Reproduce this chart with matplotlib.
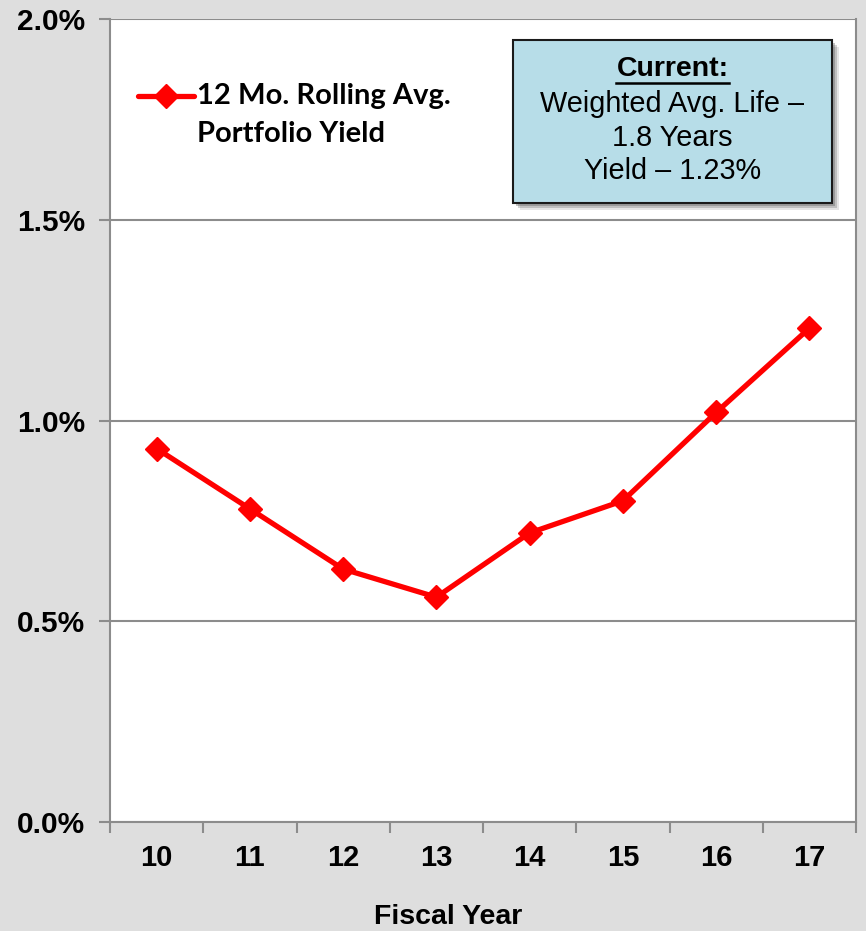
import matplotlib.pyplot as plt
import matplotlib.patches as mpatches
from matplotlib.ticker import FuncFormatter

# Data
years = ['10', '11', '12', '13', '14', '15', '16', '17']
yield_pct = [0.93, 0.78, 0.63, 0.56, 0.72, 0.80, 1.02, 1.23]
y_ticks = [0.0, 0.5, 1.0, 1.5, 2.0]

bg = '#dedede'
grid_col = '#8c8c8c'

plt.rcParams['font.family'] = ['Liberation Sans', 'DejaVu Sans']

fig = plt.figure(figsize=(8.66, 9.31), dpi=100, facecolor=bg)
ax = fig.add_axes([110/866, 1 - 822/931, (856-110)/866, (822-19)/931])
ax.set_facecolor('white')

x = list(range(len(years)))
ax.plot(x, yield_pct, color='#ff0000', lw=3.8, marker='D', ms=12,
        solid_joinstyle='round', zorder=3)

ax.set_xlim(-0.5, len(years) - 0.5)
ax.set_ylim(0, 2.0)
ax.set_yticks(y_ticks)
ax.yaxis.set_major_formatter(FuncFormatter(lambda v, p: f'{v:.1f}%'))
ax.set_xticks(x)
ax.set_xticklabels(years)
ax.set_xticks([i - 0.5 for i in range(len(years) + 1)], minor=True)
ax.tick_params(axis='x', which='major', length=0, pad=16, labelsize=21)
ax.tick_params(axis='x', which='minor', length=8, width=1.5, color=grid_col)
ax.tick_params(axis='y', length=8, width=1.5, color=grid_col, pad=10, labelsize=21.5)
for lab in ax.get_xticklabels() + ax.get_yticklabels():
    lab.set_fontweight('bold')

ax.grid(axis='y', color=grid_col, lw=1.5, zorder=0)
for s in ['left', 'bottom', 'right']:
    ax.spines[s].set_color(grid_col)
    ax.spines[s].set_linewidth(1.5)
ax.spines['top'].set_visible(False)

# axis title
fig.text(448/866, 1 - 917/931, 'Fiscal Year', fontsize=20.5, fontweight='bold',
         ha='center', va='center')

# legend drawn in the upper left
lx0, lx1, ly = 138, 194, 96
fig.add_artist(plt.Line2D([lx0/866, lx1/866], [1 - ly/931, 1 - ly/931],
                          color='#ff0000', lw=3.8, solid_capstyle='round'))
fig.add_artist(plt.Line2D([(lx0+lx1)/2/866], [1 - ly/931], color='#ff0000',
                          marker='D', ms=12, lw=0))
fig.text(197/866, 1 - ly/931, '12 Mo. Rolling Avg.', fontsize=21,
         fontweight='bold', family=['Lato', 'DejaVu Sans'], va='center')
fig.text(197/866, 1 - 134/931, 'Portfolio Yield', fontsize=21,
         fontweight='bold', family=['Lato', 'DejaVu Sans'], va='center')

# info box with shadow
bx0, by0, bx1, by1 = 513, 40, 832, 203
for off, a in [(7, 0.15), (5, 0.25), (3, 0.35)]:
    fig.add_artist(mpatches.Rectangle(((bx0+off)/866, 1 - (by1+off)/931),
                                      (bx1-bx0)/866, (by1-by0)/931,
                                      transform=fig.transFigure, facecolor='#555555',
                                      edgecolor='none', alpha=a, zorder=4))
box = mpatches.Rectangle((bx0/866, 1 - by1/931), (bx1-bx0)/866, (by1-by0)/931,
                         transform=fig.transFigure, facecolor='#b7dde8',
                         edgecolor='#1a1a1a', lw=1.5, zorder=5)
fig.add_artist(box)
cx = (bx0 + bx1) / 2 / 866
title = fig.text(cx, 1 - 69/931, 'Current:', fontsize=20.5, fontweight='bold',
                 ha='center', va='center', zorder=6)
fig.text(cx, 1 - 104/931, 'Weighted Avg. Life –', fontsize=20.8,
         ha='center', va='center', zorder=6)
fig.text(cx, 1 - 138/931, '1.8 Years', fontsize=20.8,
         ha='center', va='center', zorder=6)
fig.text(cx, 1 - 171/931, 'Yield – 1.23%', fontsize=20.8,
         ha='center', va='center', zorder=6)

# underline for the box title
fig.canvas.draw()
bb = title.get_window_extent().transformed(fig.transFigure.inverted())
fig.add_artist(plt.Line2D([bb.x0, bb.x1], [1 - 83/931, 1 - 83/931],
                          color='black', lw=1.8, zorder=6))

fig.savefig('out.png', dpi=100, facecolor=bg)
